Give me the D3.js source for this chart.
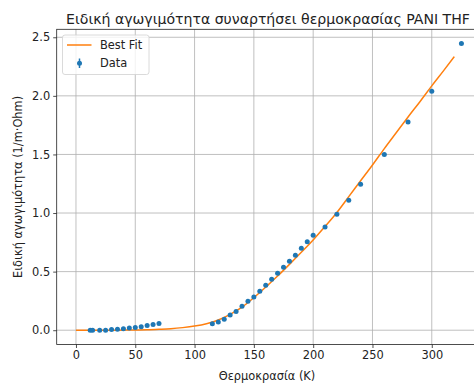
<!DOCTYPE html>
<html>
<head>
<meta charset="utf-8">
<script src="https://cdn.jsdelivr.net/npm/d3@7"></script>
<style>
  body { margin: 0; background: #fff; }
  svg text { font-family: "DejaVu Sans", sans-serif; fill: #222; }
</style>
</head>
<body>
<svg id="chart" width="474" height="383"></svg>
<script>
'use strict';

// measured points
const dataT = [12, 14, 20, 25, 30, 35, 40, 45, 50, 55, 60, 65, 70,
  115, 120, 125, 130, 135, 140, 145, 150, 155, 160, 165, 170, 175, 180, 185, 190, 195, 200,
  210, 220, 230, 240, 260, 280, 300, 325];
const dataV = [0.0, 0.0, 0.0, 0.0, 0.005, 0.008, 0.012, 0.018, 0.024, 0.03, 0.04, 0.048, 0.058,
  0.056, 0.07, 0.094, 0.13, 0.16, 0.205, 0.247, 0.284, 0.332, 0.383, 0.435, 0.486, 0.537, 0.588, 0.64, 0.70, 0.755, 0.81,
  0.88, 0.99, 1.11, 1.245, 1.50, 1.776, 2.04, 2.446];

// best fit curve
const fitT = [0, 10, 20, 30, 40, 50, 60, 70, 80, 90, 100, 110, 120, 130, 140, 150, 160, 170,
  180, 190, 200, 210, 220, 230, 240, 250, 260, 270, 280, 290, 300, 310, 319];
const fitV = [0, 0, 0, 0, 0.001, 0.002, 0.004, 0.008, 0.013, 0.022, 0.035, 0.055, 0.087, 0.135,
  0.197, 0.278, 0.368, 0.462, 0.562, 0.665, 0.77, 0.885, 1.005, 1.14, 1.275, 1.41, 1.55, 1.685,
  1.82, 1.95, 2.085, 2.215, 2.335];

const xTicks = [0, 50, 100, 150, 200, 250, 300];
const yTicks = [0.0, 0.5, 1.0, 1.5, 2.0, 2.5];

const svg = d3.select("#chart");
const margin = { top: 29.3, left: 56.7, bottom: 38.5 };
const plotW = 424, height = 383;
const fontSize = "11.4px";

const x = d3.scaleLinear().domain([-16.25, 341.25]).range([margin.left, margin.left + plotW]);
const y = d3.scaleLinear().domain([-0.122, 2.568]).range([height - margin.bottom, margin.top]);

// Grid lines
svg.append("g")
  .selectAll("line")
  .data(xTicks)
  .enter().append("line")
  .attr("x1", d => x(d)).attr("x2", d => x(d))
  .attr("y1", y.range()[0]).attr("y2", y.range()[1])
  .attr("stroke", "#b0b0b0").attr("stroke-width", 0.8);

svg.append("g")
  .selectAll("line")
  .data(yTicks)
  .enter().append("line")
  .attr("x1", x.range()[0]).attr("x2", x.range()[1])
  .attr("y1", d => y(d)).attr("y2", d => y(d))
  .attr("stroke", "#b0b0b0").attr("stroke-width", 0.8);

// fit line
const line = d3.line()
  .x((d, i) => x(fitT[i]))
  .y(d => y(d))
  .curve(d3.curveMonotoneX);

svg.append("path")
  .datum(fitV)
  .attr("fill", "none")
  .attr("stroke", "#ff7f0e")
  .attr("stroke-width", 1.5)
  .attr("d", line);

// data points
svg.append("g")
  .selectAll("circle")
  .data(dataV)
  .enter().append("circle")
  .attr("cx", (d, i) => x(dataT[i]))
  .attr("cy", d => y(d))
  .attr("r", 2.5)
  .attr("fill", "#1f77b4");

// Axes
const xAxis = svg.append("g")
  .attr("transform", `translate(0,${y.range()[0]})`)
  .call(d3.axisBottom(x).tickValues(xTicks).tickSize(3.5).tickPadding(3).tickFormat(d3.format("d")));
const yAxis = svg.append("g")
  .attr("transform", `translate(${margin.left},0)`)
  .call(d3.axisLeft(y).tickValues(yTicks).tickSize(3.5).tickPadding(3).tickFormat(d3.format(".1f")));

[xAxis, yAxis].forEach(g => {
  g.select(".domain").remove();
  g.selectAll("line").attr("stroke", "#222").attr("stroke-width", 0.8);
  g.selectAll("text").style("font-size", fontSize).attr("fill", "#222");
});

// spines
svg.append("rect")
  .attr("x", x.range()[0]).attr("y", margin.top)
  .attr("width", plotW).attr("height", y.range()[0] - margin.top)
  .attr("fill", "none").attr("stroke", "#222").attr("stroke-width", 0.8);

// Title and labels
svg.append("text")
  .attr("x", 268).attr("y", 24)
  .attr("text-anchor", "middle")
  .style("font-size", "14.1px")
  .text("Ειδική αγωγιμότητα συναρτήσει θερμοκρασίας PANI THF");

svg.append("text")
  .attr("x", 267).attr("y", 380)
  .attr("text-anchor", "middle")
  .style("font-size", fontSize)
  .text("Θερμοκρασία (K)");

svg.append("text")
  .attr("transform", `translate(21.5,${(margin.top + y.range()[0]) / 2}) rotate(-90)`)
  .attr("text-anchor", "middle")
  .style("font-size", fontSize)
  .text("Ειδική αγωγιμότητα (1/m·Ohm)");

// Legend
const legend = svg.append("g").attr("transform", "translate(62.5,35)");
legend.append("rect")
  .attr("width", 86.5).attr("height", 39.5).attr("rx", 2.5)
  .attr("fill", "#fff").attr("fill-opacity", 0.8)
  .attr("stroke", "#d0d0d0").attr("stroke-width", 0.8);
legend.append("line")
  .attr("x1", 4.5).attr("x2", 29).attr("y1", 10).attr("y2", 10)
  .attr("stroke", "#ff7f0e").attr("stroke-width", 1.5);
legend.append("text").attr("x", 37.5).attr("y", 14.3).style("font-size", fontSize).text("Best Fit");
legend.append("line")
  .attr("x1", 17).attr("x2", 17).attr("y1", 23.5).attr("y2", 33)
  .attr("stroke", "#1f77b4").attr("stroke-width", 1.5);
legend.append("circle").attr("cx", 17).attr("cy", 28.3).attr("r", 2.5).attr("fill", "#1f77b4");
legend.append("text").attr("x", 37.5).attr("y", 32.3).style("font-size", fontSize).text("Data");
</script>
</body>
</html>
